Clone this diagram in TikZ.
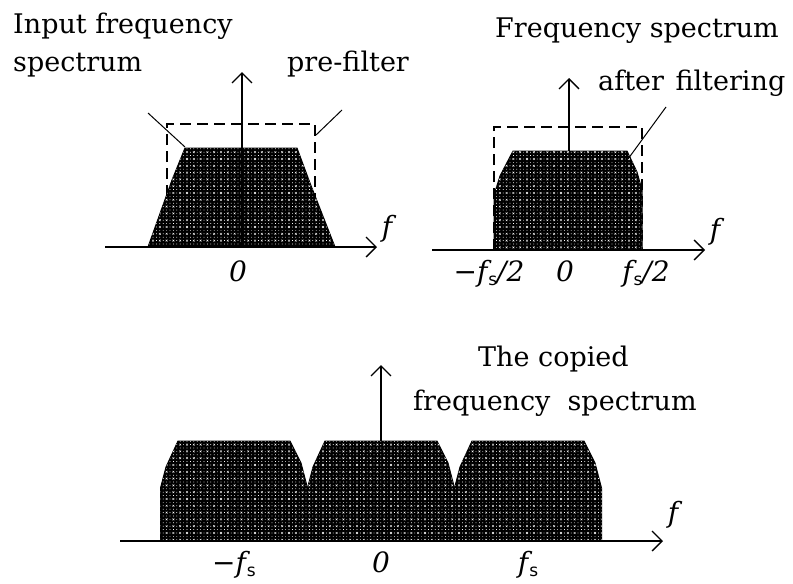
\documentclass[tikz,border=0pt]{standalone}
\usepackage{fontspec}
\setmainfont{DejaVu Serif}
\newfontfamily\subfont{DejaVu Sans}
\usetikzlibrary{arrows.meta,patterns}
\pgfdeclarepatternformonly{halftone}{\pgfqpoint{-1pt}{-1pt}}{\pgfqpoint{7.8pt}{7.8pt}}{\pgfqpoint{6.8pt}{6.8pt}}{%
 \pgfpathrectangle{\pgfqpoint{-0.35pt}{-0.35pt}}{\pgfqpoint{0.7pt}{0.7pt}}%
 \pgfpathrectangle{\pgfqpoint{3.05pt}{-0.35pt}}{\pgfqpoint{0.7pt}{0.7pt}}%
 \pgfpathrectangle{\pgfqpoint{-0.35pt}{3.05pt}}{\pgfqpoint{0.7pt}{0.7pt}}%
 \pgfusepath{fill}%
 \pgfsetlinewidth{0.4pt}%
 \pgfpathmoveto{\pgfqpoint{2.5pt}{2.5pt}}\pgfpathlineto{\pgfqpoint{4.3pt}{4.3pt}}%
 \pgfpathmoveto{\pgfqpoint{2.5pt}{4.3pt}}\pgfpathlineto{\pgfqpoint{4.3pt}{2.5pt}}%
 \pgfusepath{stroke}%
}
\newcommand\fsub{\textit{f}\kern1pt\raisebox{-4pt}{\upshape\subfont\fontsize{17}{17}\selectfont s}}
\tikzset{
 axis/.style={line width=1.3pt, -{Straight Barb[length=10pt,width=20pt]}},
 band/.style={draw=black, line width=1pt, fill=black, postaction={pattern=halftone, pattern color=white}},
 filterbox/.style={line width=1.3pt, dash pattern=on 11pt off 6pt},
 leader/.style={line width=1pt},
 txt/.style={inner sep=0pt, anchor=base west, font=\fontsize{27}{32}\selectfont},
 lab/.style={inner sep=0pt, font=\fontsize{28}{32}\selectfont\itshape},
}
\begin{document}
\begin{tikzpicture}[x=1pt,y=-1pt]
\useasboundingbox (0,0) rectangle (793,584);
% ---------- top-left panel ----------
\draw[filterbox] (167,247) -- (167,124) -- (315,124) -- (315,247);
\path[band] (148,247) -- (172,180) -- (185,148) -- (297,148) -- (310,183) -- (335,247) -- cycle;
\coordinate (a1s) at (105,247); \coordinate (a1e) at (377,247);
\coordinate (v1s) at (242,247); \coordinate (v1e) at (242,72);
\draw[axis] (a1s) -- (a1e);
\draw[axis] (v1s) -- (v1e);
\node[txt] (in1) at (13,33) {Input frequency};
\node[txt] (in2) at (13,71) {spectrum};
\node[txt] (pre) at (287,71) {pre-filter};
\coordinate (l1a) at (148,113); \coordinate (l1b) at (185,147);
\coordinate (l2a) at (342,110); \coordinate (l2b) at (316,135);
\draw[leader] (l1a) -- (l1b);
\draw[leader] (l2a) -- (l2b);
\node[lab] (z1) at (238,271) {0};
\node[lab] (f1) at (387,229) {f};
% ---------- top-right panel ----------
\draw[filterbox] (494,250) -- (494,127) -- (642,127) -- (642,250);
\path[band] (494,250) -- (494,195) -- (500,176) -- (513,151) -- (627,151) -- (637,172) -- (642,190) -- (642,250) -- cycle;
\coordinate (a2s) at (432,250); \coordinate (a2e) at (705,250);
\coordinate (v2s) at (569,151); \coordinate (v2e) at (569,78);
\draw[axis] (a2s) -- (a2e);
\draw[axis] (v2s) -- (v2e);
\node[txt] (fr1) at (495,37) {Frequency spectrum};
\node[txt] (fr2) at (598,90) {after\hspace{3pt} filtering};
\coordinate (l3a) at (666,107); \coordinate (l3b) at (628,159);
\draw[leader] (l3a) -- (l3b);
\node[lab] (m2) at (489,274) {\textup{−}\fsub/2};
\node[lab] (z2) at (565,271) {0};
\node[lab] (p2) at (646,274) {\fsub/2};
\node[lab] (f2) at (715,232) {f};
% ---------- bottom panel ----------
\foreach \c in {234,381,528}{
 \path[band] (\c-73.5,541) -- (\c-73.5,488) -- (\c-68,467) -- (\c-56,441) -- (\c+56,441) -- (\c+67,463) -- (\c+73.5,488) -- (\c+73.5,541) -- cycle;
}
\coordinate (a3s) at (120,541); \coordinate (a3e) at (663,541);
\coordinate (v3s) at (381,441); \coordinate (v3e) at (381,365);
\draw[axis] (a3s) -- (a3e);
\draw[axis] (v3s) -- (v3e);
\node[txt] (cp1) at (478,366) {The copied};
\node[txt] (cp2) at (413,410) {frequency\ \ spectrum};
\node[lab] (m3) at (234,565) {\textup{−}\fsub};
\node[lab] (z3) at (381,562) {0};
\node[lab] (p3) at (528,565) {\fsub};
\node[lab] (f3) at (673,515) {f};
\end{tikzpicture}
\end{document}
